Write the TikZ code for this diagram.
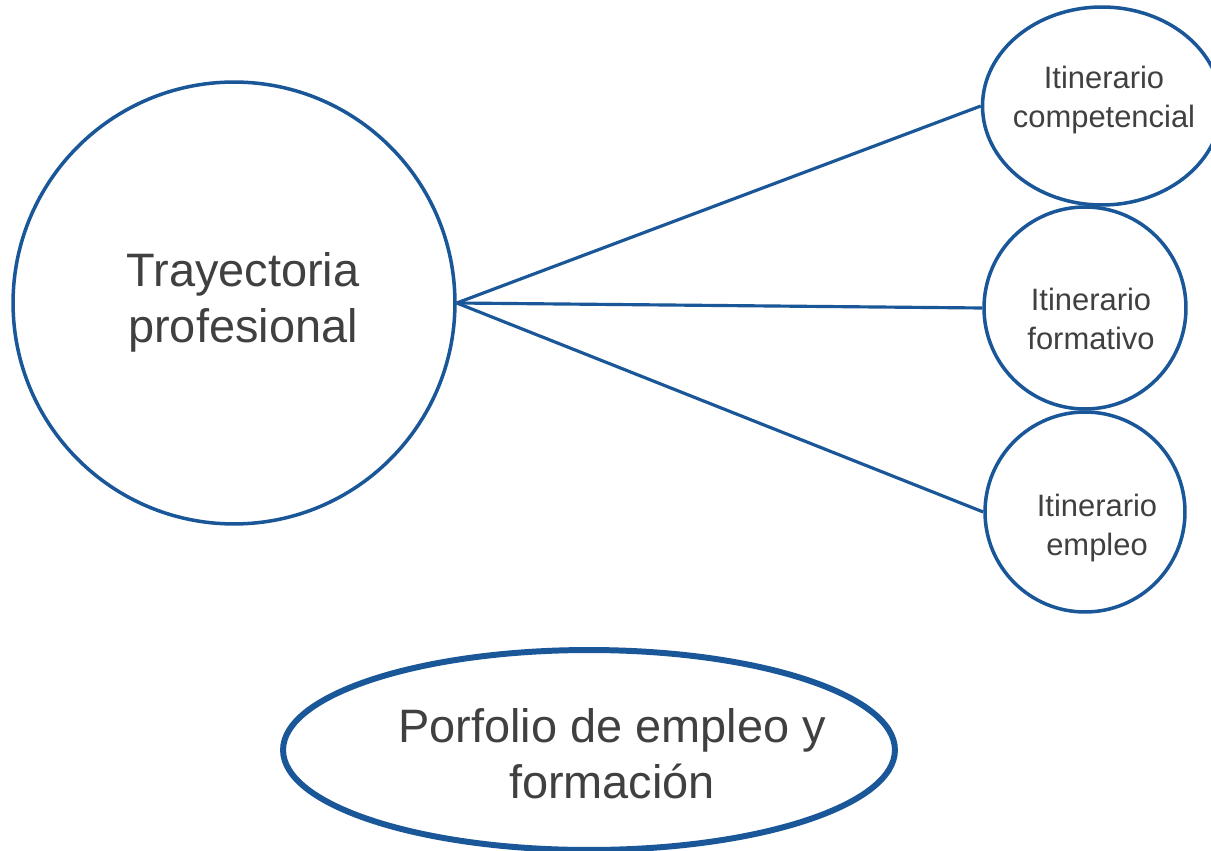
\documentclass[tikz,border=0pt]{standalone}
\usepackage{fontspec}
\setmainfont{Liberation Sans}
\usetikzlibrary{shapes.geometric}
\definecolor{lineblue}{HTML}{1A5798}
\definecolor{textgray}{HTML}{404040}
\tikzset{
    ring/.style={shape=circle,draw=lineblue,line width=2pt,fill=white,inner sep=0pt},
    oval/.style={shape=ellipse,draw=lineblue,line width=2pt,fill=white,inner sep=0pt},
    link/.style={draw=lineblue,line width=1.8pt},
    bigtext/.style={align=center,text=textgray,font=\fontsize{26.7}{32}\selectfont},
    smalltext/.style={align=center,text=textgray,font=\fontsize{17.6}{22.2}\selectfont}
}

\begin{document}
\begin{tikzpicture}[x=0.02cm,y=-0.02cm]
    % page size (pixels of the reference)
    \useasboundingbox [fill=white] (0,0) rectangle (1211,851);

    % circles
    \node [ring, minimum size=8.84cm]                         at (234,303)  (tray) {};
    \node [oval, minimum width=4.78cm, minimum height=3.96cm] at (1102,106) (comp) {};
    \node [ring, minimum size=4.04cm]                         at (1085,308) (form) {};
    \node [ring, minimum size=4.0cm]                          at (1085,512) (empl) {};
    \node [oval, line width=3.4pt, minimum width=12.24cm, minimum height=4cm] at (589,750) (port) {};

    % texts
    \node [bigtext]   at (243,302)  (trayT) {Trayectoria\\profesional};
    \node [smalltext] at (1104,100) (compT) {Itinerario\\competencial};
    \node [smalltext] at (1091,319) (formT) {Itinerario\\formativo};
    \node [smalltext] at (1097,528) (emplT) {Itinerario\\empleo};
    \node [bigtext]   at (612,754)  (portT) {Porfolio de empleo y\\formación};

    % lines
    \draw [link] (tray.east) -- (comp.west);
    \draw [link] (tray.east) -- (form.west);
    \draw [link] (tray.east) -- (empl.west);
\end{tikzpicture}
\end{document}
